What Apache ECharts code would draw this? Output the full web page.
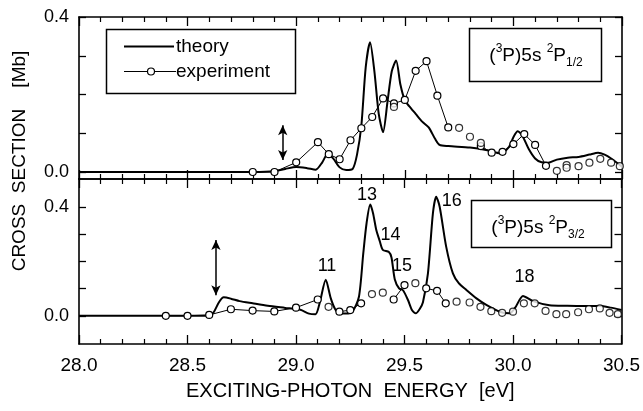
<!DOCTYPE html>
<html>
<head>
<meta charset="utf-8">
<script src="https://cdn.jsdelivr.net/npm/echarts@6/dist/echarts.min.js"></script>
<style>
  html, body { margin: 0; padding: 0; background: #fff; }
  #chart { width: 643px; height: 411px; }
</style>
</head>
<body>
<div id="chart"></div>
<script>
// Photon-energy axis (eV)
const energyMin = 28.0;
const energyMax = 30.5;
const energyTicks = [28.0, 28.5, 29.0, 29.5, 30.0, 30.5];

// Cross-section tick values (Mb)
const sectionTicks = [0.0, 0.1, 0.2, 0.3, 0.4];
const sectionLabels = [0.0, 0.4];

// (3P)5s 2P1/2 channel: calculated cross section
const theory12E = [28.0, 28.8, 28.9, 28.95, 29.0, 29.05, 29.09, 29.12, 29.145, 29.17, 29.2, 29.23, 29.26, 29.28, 29.3, 29.32, 29.34, 29.36, 29.38, 29.4, 29.42, 29.44, 29.46, 29.48, 29.5, 29.52, 29.55, 29.58, 29.61, 29.64, 29.66, 29.7, 29.8, 29.88, 29.94, 29.98, 30.0, 30.02, 30.04, 30.07, 30.1, 30.13, 30.16, 30.2, 30.25, 30.3, 30.35, 30.39, 30.42, 30.45, 30.5];
const theory12V = [0, 0, 0.002, 0.008, 0.013, 0.010, 0.006, 0.025, 0.047, 0.035, 0.012, 0.005, 0.008, 0.045, 0.12, 0.27, 0.335, 0.26, 0.15, 0.103, 0.18, 0.26, 0.288, 0.225, 0.185, 0.17, 0.15, 0.13, 0.115, 0.085, 0.07, 0.067, 0.063, 0.056, 0.048, 0.065, 0.09, 0.105, 0.095, 0.06, 0.035, 0.025, 0.024, 0.032, 0.037, 0.039, 0.045, 0.05, 0.045, 0.035, 0.014];

// (3P)5s 2P1/2 channel: measured points, joined runs and single points
const expt12RunA = [[28.80, 0.0], [28.90, 0.0], [29.00, 0.025], [29.10, 0.077], [29.15, 0.046], [29.20, 0.033], [29.25, 0.082], [29.30, 0.113], [29.35, 0.142], [29.40, 0.19], [29.45, 0.177], [29.50, 0.186], [29.55, 0.261], [29.60, 0.286], [29.65, 0.197], [29.70, 0.115]];
const expt12RunB = [[29.85, 0.067], [29.90, 0.050], [29.95, 0.052], [30.00, 0.072], [30.05, 0.098], [30.10, 0.070], [30.15, 0.016]];
const expt12Single = [[29.45, 0.168], [29.75, 0.114], [29.80, 0.091], [29.85, 0.075], [30.20, 0.003], [30.245, 0.018], [30.245, 0.011], [30.30, 0.015], [30.35, 0.024], [30.40, 0.034], [30.45, 0.024], [30.49, 0.015]];

// (3P)5s 2P3/2 channel: calculated cross section
const theory32E = [28.0, 28.6, 28.62, 28.645, 28.667, 28.7, 28.74, 28.8, 28.87, 28.95, 29.02, 29.06, 29.09, 29.11, 29.137, 29.16, 29.18, 29.2, 29.23, 29.26, 29.29, 29.31, 29.325, 29.342, 29.355, 29.37, 29.386, 29.4, 29.428, 29.44, 29.455, 29.475, 29.493, 29.516, 29.535, 29.552, 29.57, 29.585, 29.608, 29.631, 29.646, 29.662, 29.692, 29.723, 29.75, 29.785, 29.83, 29.877, 29.938, 29.984, 30.01, 30.046, 30.092, 30.168, 30.25, 30.32, 30.4, 30.45, 30.5];
const theory32V = [0, 0, 0.012, 0.05, 0.068, 0.063, 0.054, 0.046, 0.037, 0.029, 0.022, 0.008, 0.006, 0.05, 0.133, 0.065, 0.025, 0.009, 0.008, 0.015, 0.07, 0.23, 0.34, 0.41, 0.378, 0.316, 0.275, 0.243, 0.235, 0.215, 0.135, 0.101, 0.094, 0.058, 0.02, 0.009, 0.025, 0.05, 0.156, 0.378, 0.439, 0.402, 0.255, 0.156, 0.12, 0.095, 0.065, 0.04, 0.015, 0.009, 0.03, 0.073, 0.054, 0.039, 0.037, 0.036, 0.036, 0.03, 0.021];

// (3P)5s 2P3/2 channel: measured points
const expt32RunA = [[28.40, 0.0], [28.50, 0.0], [28.60, 0.003], [28.70, 0.024], [28.80, 0.019], [28.90, 0.016], [29.00, 0.030], [29.10, 0.060]];
const expt32RunB = [[29.20, 0.015], [29.25, 0.021], [29.30, 0.046]];
const expt32RunC = [[29.45, 0.060], [29.50, 0.113]];
const expt32RunD = [[29.60, 0.101], [29.65, 0.092], [29.69, 0.046]];
const expt32Single = [[29.15, 0.033], [29.35, 0.080], [29.40, 0.085], [29.55, 0.120], [29.74, 0.052], [29.80, 0.049], [29.85, 0.033], [29.90, 0.017], [29.95, 0.011], [30.00, 0.015], [30.05, 0.046], [30.10, 0.046], [30.15, 0.018], [30.20, 0.006], [30.245, 0.006], [30.30, 0.013], [30.35, 0.024], [30.40, 0.027], [30.445, 0.011], [30.483, 0.006]];

// Resonance numbers in the 2P3/2 channel
const resonanceNames = ['11', '13', '14', '15', '16', '18'];
const resonanceE = [29.143, 29.327, 29.436, 29.489, 29.718, 30.053];
const resonanceY = [0.182, 0.444, 0.298, 0.183, 0.423, 0.144];

// Threshold arrows: [energy, lower end, upper end]
const threshold12 = [28.938, 0.031, 0.121];
const threshold32 = [28.631, 0.076, 0.279];

const FONT = '"Liberation Sans", Arial, Helvetica, sans-serif';
const BLACK = '#000';

const zip = (xs, ys) => xs.map((x, i) => [x, ys[i]]);

function energyAxis(gridIndex, position, withLabels) {
  return {
    type: 'value', gridIndex, position,
    min: energyMin, max: energyMax, interval: 0.5,
    axisLine: { show: true, onZero: false, lineStyle: { color: BLACK, width: 1.6 } },
    axisTick: { show: true, inside: true, length: 9, lineStyle: { color: BLACK, width: 1.3 } },
    minorTick: { show: true, splitNumber: 5, length: 5, lineStyle: { color: BLACK, width: 1.2 } },
    splitLine: { show: false }, minorSplitLine: { show: false },
    axisLabel: {
      show: withLabels, margin: 12, fontSize: 19, fontFamily: FONT, color: BLACK,
      showMinLabel: true, showMaxLabel: true,
      formatter: v => v.toFixed(1),
      customValues: energyTicks
    }
  };
}

function sectionAxis(gridIndex, position, min, max, withLabels) {
  return {
    type: 'value', gridIndex, position, min, max,
    axisLine: { show: true, onZero: false, lineStyle: { color: BLACK, width: 1.6 } },
    axisTick: { show: true, inside: true, length: 7, lineStyle: { color: BLACK, width: 1.3 }, customValues: sectionTicks },
    splitLine: { show: false },
    axisLabel: {
      show: withLabels, margin: 10, fontSize: 18, fontFamily: FONT, color: BLACK,
      formatter: v => v.toFixed(1),
      customValues: sectionLabels
    }
  };
}

const exptSymbol = {
  symbol: 'circle', symbolSize: 7,
  itemStyle: { color: '#fff', borderColor: BLACK, borderWidth: 1.2 }
};

function exptRun(data, xi, yi) {
  return Object.assign({
    name: 'experiment', type: 'line', data, xAxisIndex: xi, yAxisIndex: yi,
    showSymbol: true, z: 5,
    lineStyle: { color: BLACK, width: 1 }
  }, exptSymbol);
}

function exptSingles(data, xi, yi) {
  return Object.assign({
    name: 'experiment', type: 'scatter', data, xAxisIndex: xi, yAxisIndex: yi, z: 5
  }, exptSymbol);
}

function arrowMark(t) {
  return {
    silent: true, symbol: ['arrow', 'arrow'], symbolSize: [7, 10],
    lineStyle: { color: BLACK, width: 1.5, type: 'solid' },
    label: { show: false },
    data: [[{ coord: [t[0], t[1]] }, { coord: [t[0], t[2]] }]]
  };
}

function stateLabel(cx, cy, sub) {
  return {
    type: 'text', x: cx, y: cy, z: 10,
    style: {
      text: '{m|(}{s|3}{m|P)5s }{s|2}{m|P}{b|' + sub + '}',
      align: 'center', verticalAlign: 'middle', fill: BLACK,
      rich: {
        m: { fontSize: 19, fontFamily: FONT, lineHeight: 26, verticalAlign: 'middle', fill: BLACK },
        s: { fontSize: 12, fontFamily: FONT, lineHeight: 12, verticalAlign: 'top', fill: BLACK },
        b: { fontSize: 12, fontFamily: FONT, lineHeight: 12, verticalAlign: 'bottom', fill: BLACK }
      }
    }
  };
}

// Key box in the upper panel
const keyBox = { x: 106, y: 29, w: 189, h: 64 };
const keyRows = [46.5, 71.5];
const legendGraphics = [
  { type: 'rect', z: 10, shape: { x: keyBox.x + 0.5, y: keyBox.y + 0.5, width: keyBox.w, height: keyBox.h }, style: { fill: '#fff', stroke: BLACK, lineWidth: 1.5 } },
  { type: 'line', z: 11, shape: { x1: 124, y1: keyRows[0], x2: 174, y2: keyRows[0] }, style: { stroke: BLACK, lineWidth: 2 } },
  { type: 'text', z: 11, x: 176, y: keyRows[0], style: { text: 'theory', align: 'left', verticalAlign: 'middle', fontSize: 19, fontFamily: FONT, fill: BLACK } },
  { type: 'line', z: 11, shape: { x1: 124, y1: keyRows[1], x2: 176, y2: keyRows[1] }, style: { stroke: BLACK, lineWidth: 1 } },
  { type: 'circle', z: 12, shape: { cx: 151, cy: keyRows[1], r: 3.5 }, style: { fill: '#fff', stroke: BLACK, lineWidth: 1.2 } },
  { type: 'text', z: 11, x: 176, y: keyRows[1], style: { text: 'experiment', align: 'left', verticalAlign: 'middle', fontSize: 19, fontFamily: FONT, fill: BLACK } }
];

const chart = echarts.init(document.getElementById('chart'), null, { renderer: 'canvas' });

chart.setOption({
  animation: false,
  backgroundColor: '#fff',
  textStyle: { fontFamily: FONT, color: BLACK },
  grid: [
    { left: 79, top: 17, width: 543, height: 162 },
    { left: 79, top: 179, width: 543, height: 165 }
  ],
  xAxis: [
    energyAxis(0, 'bottom', false),
    energyAxis(0, 'top', false),
    Object.assign(energyAxis(1, 'bottom', true), {
      name: 'EXCITING-PHOTON  ENERGY  [eV]', nameLocation: 'middle', nameGap: 37,
      nameTextStyle: { fontSize: 20, fontFamily: FONT, color: BLACK }
    }),
    energyAxis(1, 'top', false)
  ],
  yAxis: [
    sectionAxis(0, 'left', -0.018, 0.4, true),
    sectionAxis(0, 'right', -0.018, 0.4, false),
    sectionAxis(1, 'left', -0.104, 0.504, true),
    sectionAxis(1, 'right', -0.104, 0.504, false)
  ],
  graphic: legendGraphics.concat([
    { type: 'rect', shape: { x: 469.5, y: 28.5, width: 132, height: 53 }, style: { fill: 'none', stroke: BLACK, lineWidth: 1.5 }, z: 10 },
    stateLabel(536, 56, '1/2'),
    { type: 'rect', shape: { x: 471.5, y: 200.5, width: 140, height: 47 }, style: { fill: 'none', stroke: BLACK, lineWidth: 1.5 }, z: 10 },
    stateLabel(538, 228, '3/2'),
    {
      type: 'text', x: 20, y: 161, rotation: Math.PI / 2, z: 10,
      style: { text: 'CROSS  SECTION    [Mb]', align: 'center', verticalAlign: 'middle', fontSize: 19, fontFamily: FONT, fill: BLACK }
    }
  ]),
  series: [
    {
      name: 'theory', type: 'line', xAxisIndex: 0, yAxisIndex: 0,
      data: zip(theory12E, theory12V), showSymbol: false, symbol: 'none', smooth: 0.25, z: 3,
      lineStyle: { color: BLACK, width: 2 },
      markLine: arrowMark(threshold12)
    },
    exptRun(expt12RunA, 0, 0),
    exptRun(expt12RunB, 0, 0),
    exptSingles(expt12Single, 0, 0),
    {
      name: 'theory', type: 'line', xAxisIndex: 2, yAxisIndex: 2,
      data: zip(theory32E, theory32V), showSymbol: false, symbol: 'none', smooth: 0.25, z: 3,
      lineStyle: { color: BLACK, width: 2 },
      markLine: arrowMark(threshold32),
      markPoint: {
        silent: true, symbol: 'circle', symbolSize: 1,
        itemStyle: { color: 'rgba(0,0,0,0)' },
        label: { show: true, position: 'inside', formatter: '{b}', fontSize: 18, fontFamily: FONT, color: BLACK },
        data: resonanceNames.map((n, i) => ({ name: n, coord: [resonanceE[i], resonanceY[i]] }))
      }
    },
    exptRun(expt32RunA, 2, 2),
    exptRun(expt32RunB, 2, 2),
    exptRun(expt32RunC, 2, 2),
    exptRun(expt32RunD, 2, 2),
    exptSingles(expt32Single, 2, 2)
  ]
});
</script>
</body>
</html>
